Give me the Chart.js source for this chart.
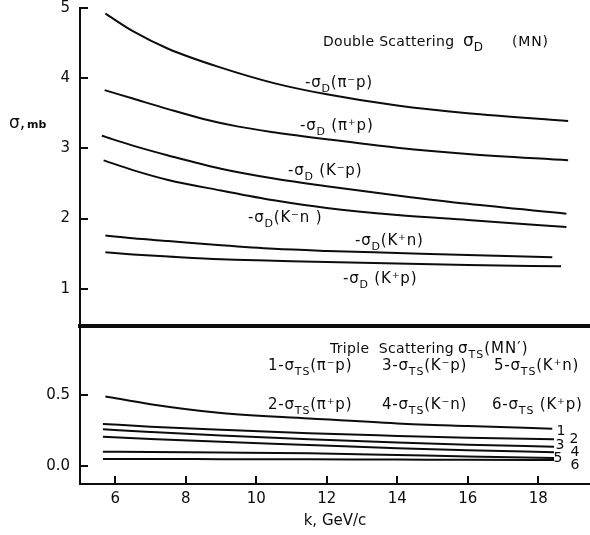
<!DOCTYPE html>
<html><head><meta charset="utf-8">
<script src="https://cdn.jsdelivr.net/npm/chart.js@4/dist/chart.umd.min.js"></script>
<style>
html,body{margin:0;padding:0;background:#fff;overflow:hidden;}
#wrap{position:relative;width:590px;height:535px;background:#fff;}
canvas{position:absolute;left:0;top:0;}
</style></head><body>
<div id="wrap"><canvas id="topc" width="590" height="535"></canvas><canvas id="botc" width="590" height="535"></canvas></div>
<script>
// ---------- data: double scattering (upper panel), sigma in mb vs k in GeV/c ----------
const k_D_piMinusP = [5.72, 6.5, 7.5, 9, 10.5, 12, 14, 16, 18.85];
const sD_piMinusP  = [4.92, 4.67, 4.42, 4.15, 3.93, 3.77, 3.61, 3.50, 3.39];
const k_D_piPlusP  = [5.7, 6.5, 7.5, 8.5, 9.5, 10.5, 12, 14, 16, 18.85];
const sD_piPlusP   = [3.83, 3.71, 3.56, 3.42, 3.31, 3.23, 3.13, 3.01, 2.92, 2.83];
const k_D_KminusP  = [5.62, 6.5, 7.5, 9, 10.5, 12, 14, 16, 18.8];
const sD_KminusP   = [3.18, 3.04, 2.90, 2.71, 2.57, 2.46, 2.33, 2.21, 2.07];
const k_D_KminusN  = [5.67, 6.5, 7.5, 9, 10.5, 12, 14, 16, 18.8];
const sD_KminusN   = [2.83, 2.69, 2.55, 2.40, 2.26, 2.15, 2.05, 1.98, 1.88];
const k_D_KplusN   = [5.72, 6.5, 7.5, 9, 10.5, 12, 14, 16, 18.4];
const sD_KplusN    = [1.76, 1.72, 1.68, 1.62, 1.57, 1.54, 1.51, 1.48, 1.45];
const k_D_KplusP   = [5.72, 6.5, 7.5, 9, 10.5, 12, 14, 16, 18.65];
const sD_KplusP    = [1.52, 1.49, 1.46, 1.42, 1.40, 1.38, 1.36, 1.34, 1.32];

// ---------- data: triple scattering (lower panel) ----------
const k_TS1 = [5.72, 7, 9, 11.5, 14, 16, 18.4];
const sTS_1 = [0.490, 0.435, 0.373, 0.335, 0.300, 0.282, 0.263];
const k_TS  = [5.65, 7, 9, 11.5, 14, 16, 18.45];
const sTS_2 = [0.296, 0.277, 0.255, 0.230, 0.212, 0.199, 0.188];
const sTS_3 = [0.258, 0.240, 0.215, 0.188, 0.165, 0.150, 0.135];
const sTS_4 = [0.206, 0.190, 0.170, 0.148, 0.125, 0.110, 0.097];
const sTS_5 = [0.101, 0.099, 0.095, 0.089, 0.077, 0.067, 0.057];
const sTS_6 = [0.049, 0.049, 0.048, 0.047, 0.045, 0.044, 0.042];

// ---------- ticks ----------
const xTicks = [6, 8, 10, 12, 14, 16, 18];
const yTicksTop = [1, 2, 3, 4, 5];
const yTicksBottom = [0, 0.5];

const INK = '#0c0c0c';
const FONT = '"DejaVu Sans", "Liberation Sans", sans-serif';
const X_MIN = 5, X_MAX = 19.47;

function pts(xs, ys) { return xs.map((x, i) => ({x: x, y: ys[i]})); }
function ds(xs, ys) {
  return {data: pts(xs, ys), borderColor: INK, borderWidth: 2, pointRadius: 0,
          fill: false, tension: 0.4, cubicInterpolationMode: 'monotone'};
}

// rich text: parts = [[text, mode]], mode 0 normal, 1 subscript
function rich(ctx, x, y, parts, size, spacing) {
  let cx = x;
  ctx.textBaseline = 'alphabetic';
  ctx.textAlign = 'left';
  ctx.fillStyle = INK;
  for (const [t, m] of parts) {
    const fs = m === 1 ? Math.round(size * 0.72) : size;
    ctx.font = fs + 'px ' + FONT;
    ctx.letterSpacing = (spacing || 0) + 'px';
    ctx.fillText(t, cx, m === 1 ? y + size * 0.32 : y);
    cx += ctx.measureText(t).width;
  }
  ctx.letterSpacing = '0px';
}

const topAnn = {
  id: 'topAnn',
  afterDraw(chart) {
    const ctx = chart.ctx;
    ctx.save();
    // y title
    rich(ctx, 9, 128, [['σ,', 0]], 17, 0);
    ctx.font = 'bold 11px ' + FONT;
    ctx.fillText('mb', 27, 128);
    // heading
    rich(ctx, 323, 46, [['Double Scattering', 0]], 14, 0.3);
    rich(ctx, 463, 46, [['σ', 0], ['D', 1]], 17, 0);
    rich(ctx, 512, 46, [['(MN)', 0]], 14, 0.8);
    const S = 15, SP = 0.8;
    rich(ctx, 305, 87, [['-σ', 0], ['D', 1], ['(π⁻p)', 0]], S, SP);
    rich(ctx, 300, 130, [['-σ', 0], ['D', 1], [' (π⁺p)', 0]], S, SP);
    rich(ctx, 288, 175, [['-σ', 0], ['D', 1], [' (K⁻p)', 0]], S, SP);
    rich(ctx, 248, 222, [['-σ', 0], ['D', 1], ['(K⁻n )', 0]], S, SP);
    rich(ctx, 355, 245, [['-σ', 0], ['D', 1], ['(K⁺n)', 0]], S, SP);
    rich(ctx, 343, 283, [['-σ', 0], ['D', 1], [' (K⁺p)', 0]], S, SP);
    ctx.restore();
  }
};

const botAnn = {
  id: 'botAnn',
  afterDraw(chart) {
    const ctx = chart.ctx;
    ctx.save();
    rich(ctx, 330, 353, [['Triple  Scattering', 0]], 14, 0.3);
    rich(ctx, 458, 353, [['σ', 0], ['TS', 1], ['(MN′)', 0]], 15, 1);
    const S = 15, SP = 0.8;
    rich(ctx, 268, 370, [['1-σ', 0], ['TS', 1], ['(π⁻p)', 0]], S, SP);
    rich(ctx, 382, 370, [['3-σ', 0], ['TS', 1], ['(K⁻p)', 0]], S, SP);
    rich(ctx, 494, 370, [['5-σ', 0], ['TS', 1], ['(K⁺n)', 0]], S, SP);
    rich(ctx, 268, 409, [['2-σ', 0], ['TS', 1], ['(π⁺p)', 0]], S, SP);
    rich(ctx, 382, 409, [['4-σ', 0], ['TS', 1], ['(K⁻n)', 0]], S, SP);
    rich(ctx, 492, 409, [['6-σ', 0], ['TS', 1], [' (K⁺p)', 0]], S, SP);
    // curve numbers
    ctx.font = '14px ' + FONT;
    ctx.textBaseline = 'middle';
    ctx.textAlign = 'center';
    ctx.fillText('1', 561, 431);
    ctx.fillText('2', 574, 439);
    ctx.fillText('3', 560, 445);
    ctx.fillText('4', 575, 452);
    ctx.fillText('5', 558, 458);
    ctx.fillText('6', 575, 465);
    ctx.restore();
  }
};

const tickFont = {family: FONT, size: 15};

new Chart(document.getElementById('topc'), {
  type: 'line',
  data: {datasets: [
    ds(k_D_piMinusP, sD_piMinusP), ds(k_D_piPlusP, sD_piPlusP), ds(k_D_KminusP, sD_KminusP),
    ds(k_D_KminusN, sD_KminusN), ds(k_D_KplusN, sD_KplusN), ds(k_D_KplusP, sD_KplusP)
  ]},
  options: {
    responsive: false, animation: false, devicePixelRatio: 1,
    layout: {padding: {top: 8, bottom: 535 - 326, left: 0, right: 0}},
    plugins: {legend: {display: false}, tooltip: {enabled: false}},
    scales: {
      x: {type: 'linear', min: X_MIN, max: X_MAX,
          ticks: {display: false},
          grid: {display: true, drawOnChartArea: false, drawTicks: false},
          border: {display: true, width: 4, color: INK},
          afterFit(s) { s.height = 0; s.paddingLeft = 0; s.paddingRight = 0; }},
      y: {type: 'linear', min: 0.47, max: 5,
          afterBuildTicks(s) { s.ticks = yTicksTop.map(v => ({value: v})); },
          ticks: {padding: 18, color: INK, font: tickFont, callback: v => String(v)},
          grid: {drawOnChartArea: false, tickLength: -8, color: INK, lineWidth: 2},
          border: {display: true, width: 2, color: INK},
          afterFit(s) { s.width = 80; s.paddingTop = 0; s.paddingBottom = 0; }}
    }
  },
  plugins: [topAnn]
});

new Chart(document.getElementById('botc'), {
  type: 'line',
  data: {datasets: [
    ds(k_TS1, sTS_1), ds(k_TS, sTS_2), ds(k_TS, sTS_3),
    ds(k_TS, sTS_4), ds(k_TS, sTS_5), ds(k_TS, sTS_6)
  ]},
  options: {
    responsive: false, animation: false, devicePixelRatio: 1,
    layout: {padding: {top: 326, bottom: 0, left: 0, right: 0}},
    plugins: {legend: {display: false}, tooltip: {enabled: false}},
    scales: {
      x: {type: 'linear', min: X_MIN, max: X_MAX,
          afterBuildTicks(s) { s.ticks = xTicks.map(v => ({value: v})); },
          ticks: {padding: 14, color: INK, font: tickFont, maxRotation: 0, callback: v => String(v)},
          grid: {drawOnChartArea: false, tickLength: -8, color: INK, lineWidth: 2},
          border: {display: true, width: 2, color: INK},
          title: {display: true, text: 'k, GeV/c', color: INK, font: {family: FONT, size: 15}, padding: {top: 0, bottom: 5}},
          afterFit(s) { s.height = 535 - 484; s.paddingLeft = 0; s.paddingRight = 0; }},
      y: {type: 'linear', min: -0.127, max: 0.986,
          afterBuildTicks(s) { s.ticks = yTicksBottom.map(v => ({value: v})); },
          ticks: {padding: 18, color: INK, font: tickFont, callback: v => Number(v).toFixed(1)},
          grid: {drawOnChartArea: false, tickLength: -8, color: INK, lineWidth: 2},
          border: {display: true, width: 2, color: INK},
          afterFit(s) { s.width = 80; s.paddingTop = 0; s.paddingBottom = 0; }}
    }
  },
  plugins: [botAnn]
});
</script>
</body></html>
